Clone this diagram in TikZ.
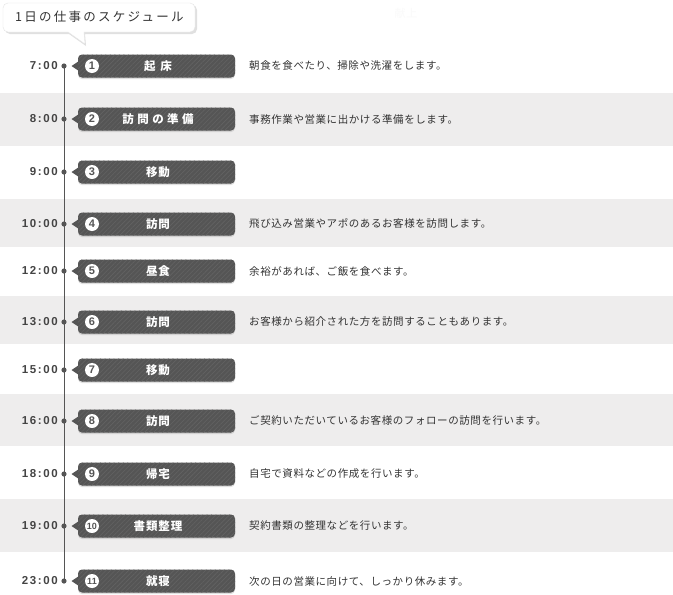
\documentclass[tikz,border=0pt]{standalone}
\usepackage{fontspec}
\usetikzlibrary{patterns.meta,shadows}
\newfontfamily\jp[LetterSpace=5.5]{Noto Sans CJK JP}
\newfontfamily\jphead[LetterSpace=18]{Noto Sans CJK JP}
\newfontfamily\jpbox[LetterSpace=8]{Noto Sans CJK JP}
\newfontfamily\jpwide[LetterSpace=30]{Noto Sans CJK JP}
\newfontfamily\timefont[LetterSpace=14]{Liberation Sans}
\newfontfamily\numfont{Liberation Sans}
\definecolor{band}{HTML}{EEEDED}
\definecolor{boxgray}{HTML}{555555}
\definecolor{stripe}{HTML}{636363}
\definecolor{txt}{HTML}{333333}
\definecolor{tim}{HTML}{444444}
\definecolor{linec}{HTML}{555555}
\tikzset{
  bandbox/.style={fill=band,draw=none},
  stepbox/.style={rectangle,rounded corners=4pt,minimum width=157pt,minimum height=23pt,inner sep=0pt,
    preaction={fill=boxgray,drop shadow={shadow xshift=0pt,shadow yshift=-1.5pt,opacity=.25}},
    pattern={Lines[angle=45,distance=3.2pt,line width=0.6pt]},pattern color=stripe},
  steptitle/.style={text=white,font=\jpbox\bfseries\fontsize{11.5}{13}\selectfont,inner sep=0pt},
  numdot/.style={circle,fill=white,minimum size=14pt,inner sep=0pt,text=boxgray},
  timelabel/.style={anchor=east,text=tim,font=\timefont\bfseries\fontsize{11.5}{13}\selectfont,inner sep=0pt},
  desclabel/.style={anchor=west,text=txt,font=\jp\fontsize{10.5}{12}\selectfont,inner sep=0pt},
  tailtri/.style={fill=boxgray},
}
\begin{document}
\begin{tikzpicture}[x=1pt,y=-1pt]
\useasboundingbox (0,0) rectangle (673,595);
\fill[white] (0,0) rectangle (673,595);
% bands
\foreach \a/\b in {93/146,199/247,296/344,394/446,499/552}
  \path[bandbox] (0,\a) rectangle (673,\b);
% faint text
\node[text=black!2,font=\jp\fontsize{11}{13}\selectfont] (faint) at (406,13) {献上};
% header callout
\path[fill=black!12] (5,5) [rounded corners=5pt] -- (197,5) -- (197,34) [sharp corners] -- (85,34) -- (86,46) -- (69,34) [rounded corners=5pt] -- (5,34) -- cycle;
\path[fill=white,draw=black!10,line width=0.4pt] (3,3) [rounded corners=5pt] -- (195,3) -- (195,32) [sharp corners] -- (84,32) -- (85,44) -- (68,32) [rounded corners=5pt] -- (3,32) -- cycle;
\node[anchor=west,text=txt,font=\jphead\fontsize{12.5}{14}\selectfont,inner sep=0pt] (head) at (15,17) {1日の仕事のスケジュール};
% rows
\foreach \i/\y/\t/\n/\title/\desc in {
 1/66/7:00/1/{起\hspace{5pt}床}/{朝食を食べたり、掃除や洗濯をします。},
 2/119/8:00/2/{\jpwide 訪問の準備}/{事務作業や営業に出かける準備をします。},
 3/172/9:00/3/{移動}/{},
 4/224/10:00/4/{訪問}/{飛び込み営業やアポのあるお客様を訪問します。},
 5/271/12:00/5/{昼食}/{余裕があれば、ご飯を食べます。},
 6/322/13:00/6/{訪問}/{お客様から紹介された方を訪問することもあります。},
 7/370/15:00/7/{移動}/{},
 8/421/16:00/8/{訪問}/{ご契約いただいているお客様のフォローの訪問を行います。},
 9/474/18:00/9/{帰宅}/{自宅で資料などの作成を行います。},
 10/526/19:00/10/{書類整理}/{契約書類の整理などを行います。},
 11/581/23:00/11/{就寝}/{次の日の営業に向けて、しっかり休みます。}}
{
  \coordinate (d\i) at (64,\y);
  \node[timelabel] (t\i) at (58,\y) {\t};
  \path[tailtri] (79,\y-5) -- (71.5,\y) -- (79,\y+5) -- cycle;
  \node[stepbox] (b\i) at (156.5,\y) {};
  \node[steptitle] (s\i) at (158,\y) {\title};
  \ifnum\n<10
    \node[numdot,font=\numfont\bfseries\fontsize{11}{11}\selectfont] (n\i) at (92,\y) {\n};
  \else
    \node[numdot,font=\numfont\bfseries\fontsize{9}{10}\selectfont] (n\i) at (92,\y) {\n};
  \fi
  \node[desclabel] (e\i) at (249,\y) {\desc};
}
% timeline
\draw[linec,line width=1pt] (d1) -- (d11);
\foreach \i in {1,...,11}
  \fill[linec] (d\i) circle (2.6pt);
\end{tikzpicture}
\end{document}
